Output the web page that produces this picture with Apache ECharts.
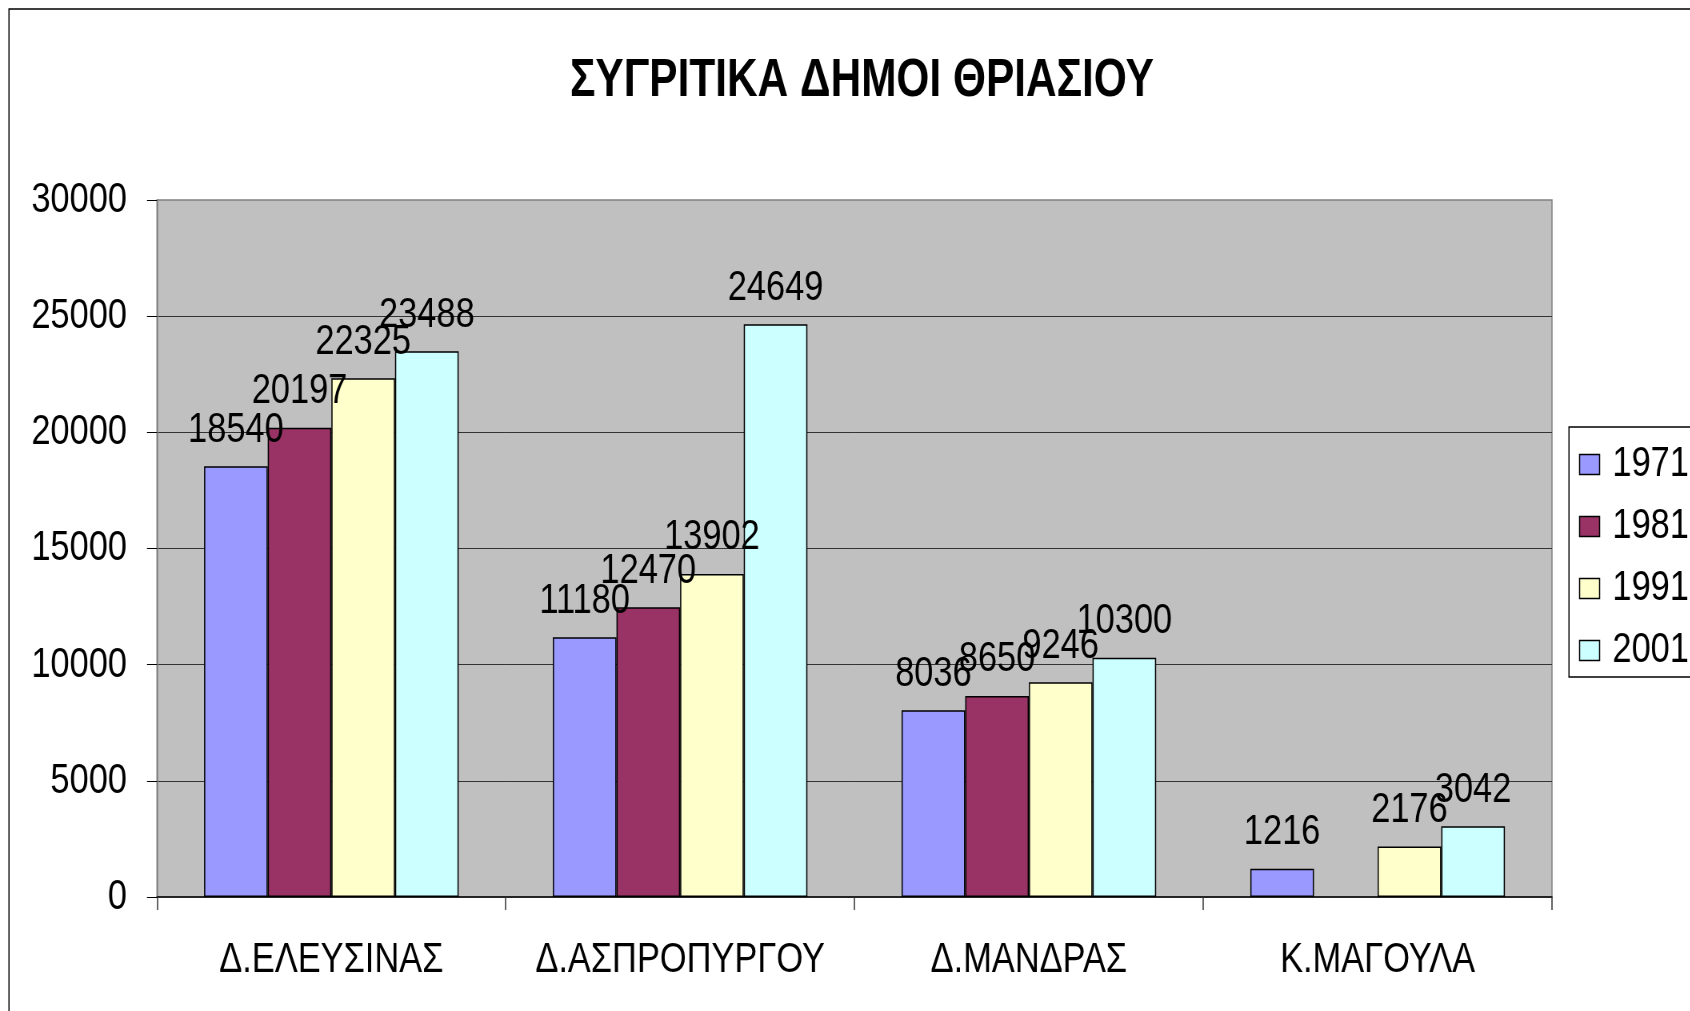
<!DOCTYPE html>
<html><head><meta charset="utf-8">
<script src="https://cdn.jsdelivr.net/npm/echarts@6/dist/echarts.min.js"></script>
<style>html,body{margin:0;padding:0;background:#fff;overflow:hidden;width:1690px;height:1011px}
#c{width:2113px;height:1011px;transform:scaleX(0.8);transform-origin:0 0}</style>
</head><body><div id="c"></div>
<script>
const title = 'ΣΥΓΡΙΤΙΚΑ ΔΗΜΟΙ ΘΡΙΑΣΙΟΥ';
const categories = ['Δ.ΕΛΕΥΣΙΝΑΣ', 'Δ.ΑΣΠΡΟΠΥΡΓΟΥ', 'Δ.ΜΑΝΔΡΑΣ', 'Κ.ΜΑΓΟΥΛΑ'];
const seriesNames = ['1971', '1981', '1991', '2001'];
const v1971 = [18540, 11180, 8036, 1216];
const v1981 = [20197, 12470, 8650, null];
const v1991 = [22325, 13902, 9246, 2176];
const v2001 = [23488, 24649, 10300, 3042];
const colors = ['#9999ff', '#993366', '#ffffcc', '#ccffff'];
const yTicks = { min: 0, max: 30000, interval: 5000 };

// The page is drawn 25% wider and squeezed horizontally (narrow-font look of the original)
const SX = 0.8;
const px = v => v / SX;
const FONT = "'Liberation Sans', Arial, sans-serif";
const FS = 43;
const values = [v1971, v1981, v1991, v2001];

const chart = echarts.init(document.getElementById('c'), null, { renderer: 'canvas' });
chart.setOption({
  backgroundColor: '#ffffff',
  animation: false,
  textStyle: { fontFamily: FONT },
  title: {
    text: title, left: px(858), top: 50, textAlign: 'center',
    textStyle: { fontFamily: FONT, fontSize: 53, fontWeight: 'bold', color: '#000' }
  },
  graphic: [{
    type: 'rect', shape: { x: px(9), y: 9, width: 3000, height: 2000 },
    style: { fill: 'none', stroke: '#000', lineWidth: 1.5 }, silent: true, z: 100
  }],
  legend: {
    orient: 'vertical', left: px(1569), top: 427,
    padding: [16, 60, 5, px(10)],
    itemGap: 19, itemWidth: px(20), itemHeight: 20,
    borderColor: '#000', borderWidth: 1.5, backgroundColor: '#fff',
    textStyle: { fontFamily: FONT, fontSize: FS, color: '#000', lineHeight: 40, padding: [0, 0, 0, 11] },
    icon: 'rect',
    itemStyle: { borderColor: '#000', borderWidth: 1.5 },
    data: seriesNames
  },
  grid: {
    left: px(157), top: 200, width: px(1395), height: 697,
    show: true, backgroundColor: '#c0c0c0', borderColor: '#808080', borderWidth: 1.5,
    containLabel: false
  },
  xAxis: {
    type: 'category', data: categories,
    axisLine: { lineStyle: { color: '#000', width: 1.5 } },
    axisTick: { show: true, alignWithLabel: false, length: 13, lineStyle: { color: '#333', width: 1.5 } },
    axisLabel: { fontFamily: FONT, fontSize: FS, color: '#000', margin: 42, interval: 0 },
    splitLine: { show: false }
  },
  yAxis: {
    type: 'value', min: yTicks.min, max: yTicks.max, interval: yTicks.interval,
    axisLine: { show: true, lineStyle: { color: '#808080', width: 1.5 } },
    axisTick: { show: true, length: px(10), lineStyle: { color: '#000', width: 1 } },
    axisLabel: { fontFamily: FONT, fontSize: FS, color: '#000', margin: px(30), formatter: v => String(v) },
    splitLine: { show: true, showMaxLine: false, showMinLine: false, lineStyle: { color: '#333', width: 1 } }
  },
  series: seriesNames.map((n, i) => ({
    name: n, type: 'bar', data: values[i],
    barGap: '0%', barCategoryGap: '27%',
    itemStyle: { color: colors[i], borderColor: '#000', borderWidth: 1.5 },
    label: { show: true, position: 'top', distance: 15, fontFamily: FONT, fontSize: FS, color: '#000' }
  }))
});
</script></body></html>
